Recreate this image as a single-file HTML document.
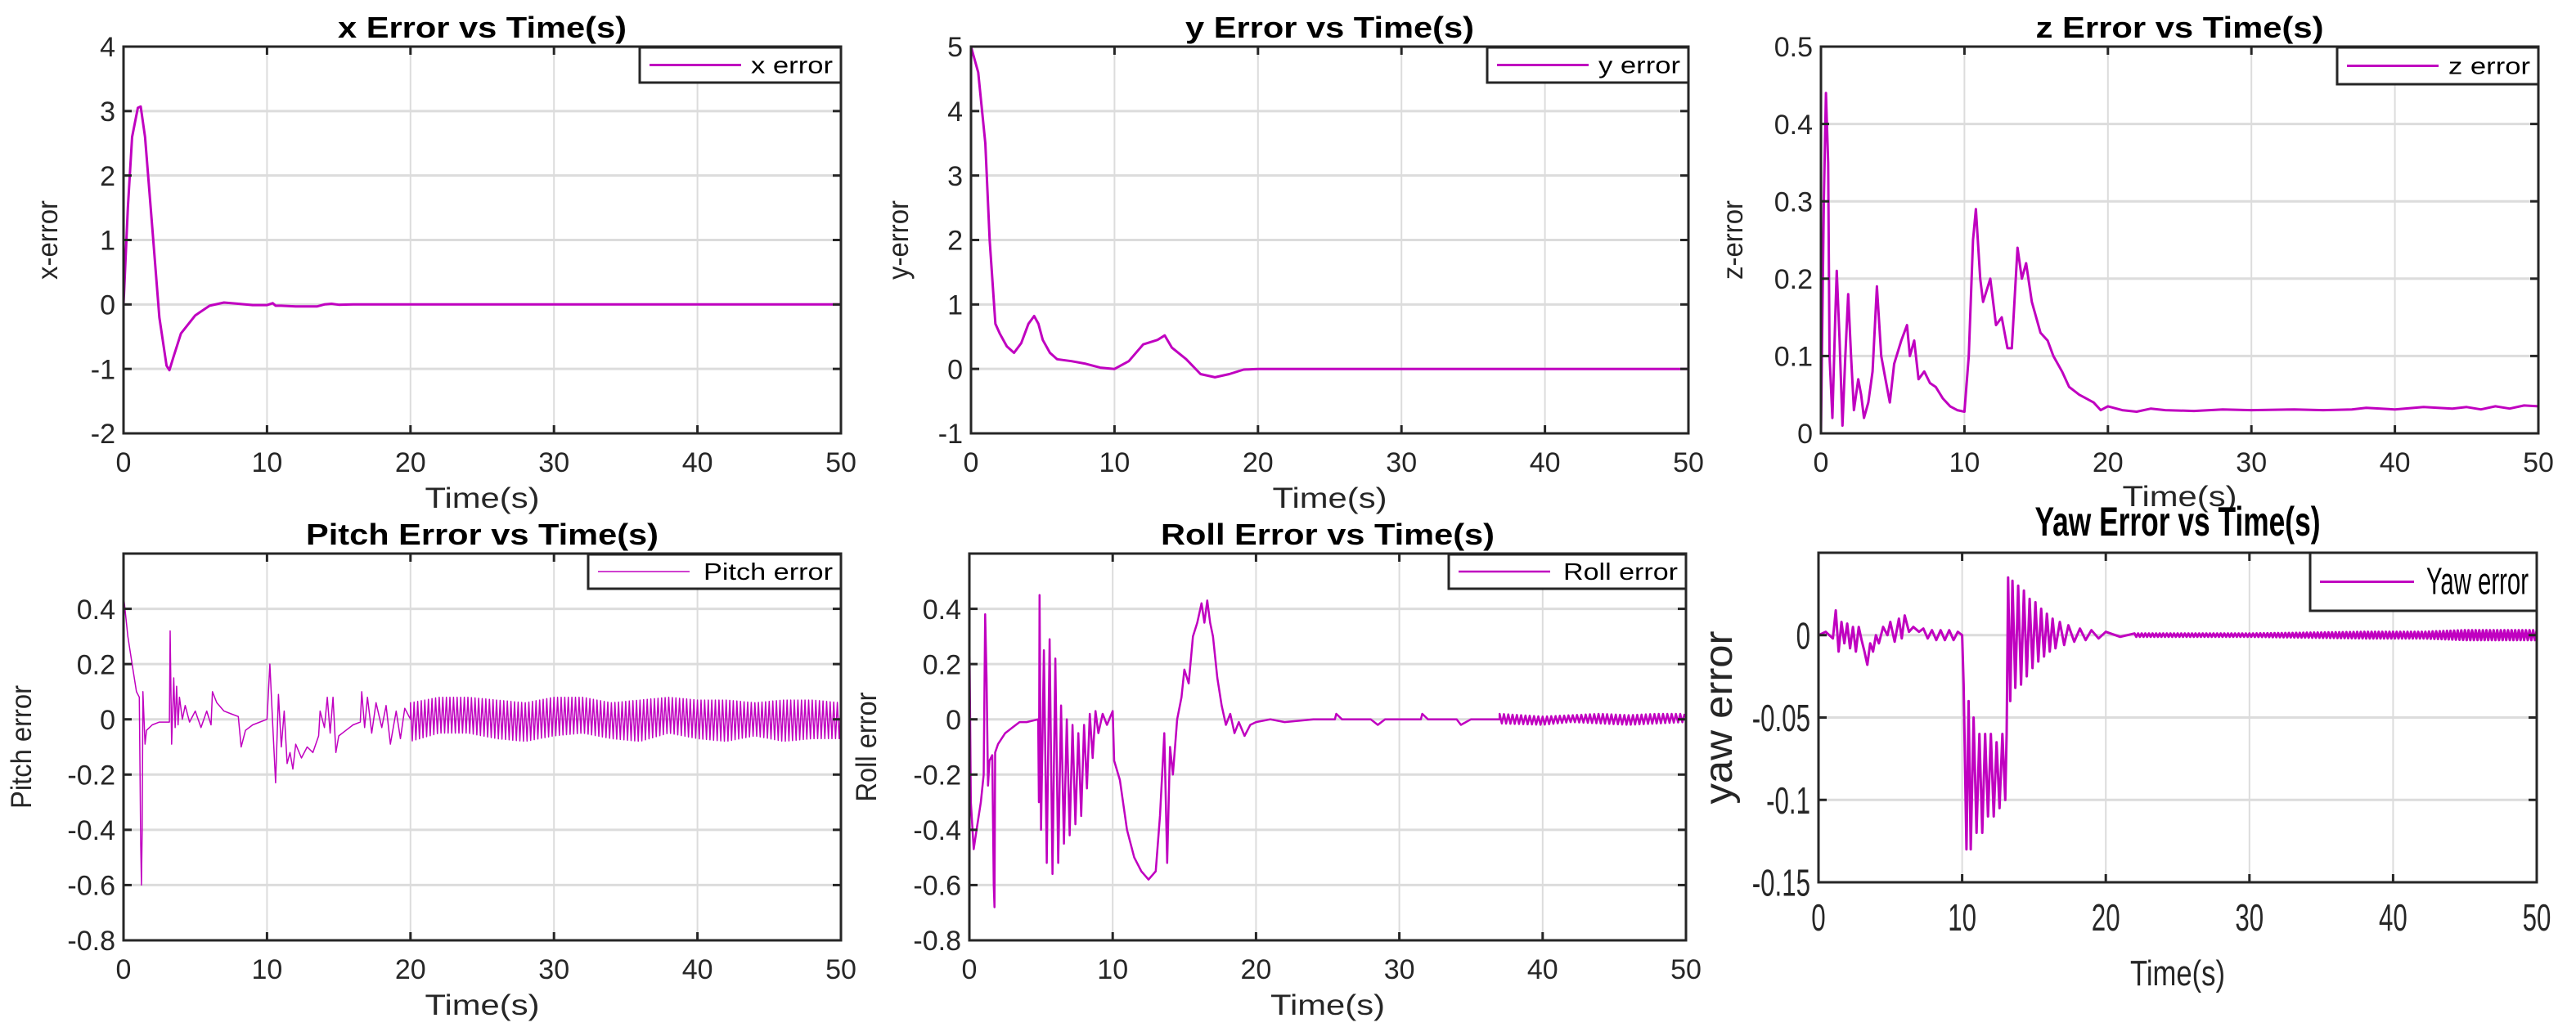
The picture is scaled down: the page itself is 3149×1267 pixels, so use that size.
<!DOCTYPE html>
<html><head><meta charset="utf-8"><style>
html,body{margin:0;padding:0;background:#fff;}
svg{display:block;}
</style></head><body>
<svg id="fig" width="3149" height="1267" viewBox="0 0 3149 1267" xmlns="http://www.w3.org/2000/svg" font-family="Liberation Sans, sans-serif"></svg>
<script>
// ---------- data ----------
const xTimes=[0,0.3,0.6,1,1.2,1.5,2,2.5,3,3.2,3.5,4,5,6,7,8,9,10,10.4,10.6,11,12,13.5,14,14.5,15,16,17,50];
const xVals=[0,1.5,2.6,3.05,3.07,2.6,1.2,-0.2,-0.95,-1.02,-0.8,-0.45,-0.17,-0.02,0.03,0.01,-0.01,-0.01,0.02,-0.02,-0.02,-0.03,-0.03,0,0.01,-0.005,0,0,0];
const yTimes=[0,0.5,1,1.3,1.7,2,2.5,3,3.5,4,4.4,4.7,5,5.5,6,7,8,9,10,11,12,13,13.5,14,15,16,17,18,19,20,50];
const yVals=[5,4.6,3.5,2,0.7,0.55,0.35,0.25,0.4,0.7,0.82,0.7,0.45,0.25,0.15,0.12,0.08,0.02,0,0.12,0.38,0.45,0.52,0.33,0.15,-0.08,-0.13,-0.08,-0.01,0,0];
const zTimes=[0,0.2,0.35,0.5,0.6,0.8,1,1.1,1.3,1.5,1.7,1.9,2.1,2.3,2.6,2.8,3,3.3,3.6,3.9,4.2,4.5,4.8,5.1,5.6,6,6.2,6.5,6.8,7.2,7.6,8,8.5,9,9.5,10,10.3,10.6,10.8,11.1,11.3,11.8,12.2,12.6,13,13.3,13.7,14,14.3,14.7,15.3,15.8,16.2,16.8,17.3,18,19,19.5,20,21,22,23,24,26,28,30,33,35,37,38,40,42,44,45,46,47,48,49,50];
const zVals=[0,0.3,0.44,0.35,0.1,0.02,0.15,0.21,0.12,0.01,0.1,0.18,0.1,0.03,0.07,0.05,0.02,0.04,0.08,0.19,0.1,0.07,0.04,0.09,0.12,0.14,0.1,0.12,0.07,0.08,0.065,0.06,0.045,0.035,0.03,0.028,0.1,0.25,0.29,0.2,0.17,0.2,0.14,0.15,0.11,0.11,0.24,0.2,0.22,0.17,0.13,0.12,0.1,0.08,0.06,0.05,0.04,0.03,0.035,0.03,0.028,0.032,0.03,0.029,0.031,0.03,0.031,0.03,0.031,0.033,0.031,0.034,0.032,0.034,0.031,0.035,0.032,0.036,0.035];
const pitchTimes=[0,0.3,0.6,0.9,1.1,1.2,1.25,1.3,1.35,1.5,1.6,2,2.5,3.2,3.25,3.35,3.5,3.6,3.7,3.8,3.9,4.1,4.3,4.6,5,5.4,5.8,6.1,6.2,6.5,7,7.5,8,8.2,8.5,9,10,10.2,10.4,10.6,10.8,11,11.2,11.4,11.6,11.8,12,12.4,12.8,13.2,13.6,13.7,14,14.2,14.4,14.6,14.8,15,15.5,16,16.5,16.6,16.8,17,17.3,17.6,18,18.3,18.6,19,19.3,19.6,20];
const pitchVals=[0.45,0.3,0.2,0.1,0.08,-0.45,-0.6,-0.4,0.1,-0.09,-0.04,-0.02,-0.01,-0.01,0.32,-0.09,0.15,-0.03,0.12,-0.02,0.08,0,0.05,-0.01,0.03,-0.03,0.03,-0.02,0.1,0.06,0.03,0.02,0.01,-0.1,-0.04,-0.02,0,0.2,-0.02,-0.23,0.09,-0.1,0.03,-0.16,-0.12,-0.18,-0.09,-0.14,-0.1,-0.12,-0.06,0.03,-0.03,0.08,-0.05,0.08,-0.12,-0.06,-0.04,-0.02,-0.01,0.1,-0.03,0.08,-0.05,0.06,-0.03,0.05,-0.09,0.03,-0.07,0.04,0];
const pitchEnvT=[20,22,24,26,28,30,32,34,36,38,40,42,44,46,48,50];
const pitchEnvHi=[0.06,0.08,0.08,0.07,0.06,0.08,0.08,0.06,0.07,0.08,0.07,0.07,0.06,0.07,0.07,0.06];
const pitchEnvLo=[-0.08,-0.05,-0.05,-0.07,-0.08,-0.06,-0.05,-0.07,-0.08,-0.05,-0.07,-0.08,-0.06,-0.08,-0.07,-0.07];
const rollTimes=[0,0.1,0.3,0.5,0.8,1.0,1.1,1.2,1.3,1.4,1.6,1.7,1.75,1.8,2,2.5,3,3.5,4,4.8,4.85,4.9,5.0,5.2,5.4,5.6,5.8,6,6.2,6.4,6.6,6.8,7,7.2,7.4,7.6,7.8,8,8.2,8.4,8.6,8.8,9,9.3,9.6,10,10.1,10.5,11,11.5,12,12.5,13,13.3,13.6,13.8,14,14.2,14.5,14.8,15,15.3,15.6,15.9,16.2,16.4,16.6,16.8,17,17.3,17.6,17.9,18.2,18.5,18.8,19.2,19.6,20,21,22,24,25.5,25.6,26,28,28.5,29,31.5,31.6,32,34,34.3,35,37];
const rollVals=[0.32,-0.3,-0.47,-0.4,-0.3,-0.2,0.38,0.15,-0.24,-0.15,-0.13,-0.6,-0.68,-0.12,-0.09,-0.05,-0.03,-0.01,-0.01,0,-0.3,0.45,-0.4,0.25,-0.52,0.29,-0.56,0.22,-0.52,0.05,-0.45,0,-0.42,-0.02,-0.38,-0.05,-0.35,-0.02,-0.25,0.02,-0.14,0.03,-0.05,0.02,-0.02,0.03,-0.15,-0.22,-0.4,-0.5,-0.55,-0.58,-0.55,-0.35,-0.05,-0.52,-0.1,-0.2,0,0.08,0.18,0.13,0.3,0.35,0.42,0.35,0.43,0.35,0.3,0.15,0.05,-0.02,0.02,-0.05,-0.01,-0.06,-0.02,-0.01,0,-0.01,0,0,0.02,0,0,-0.02,0,0,0.02,0,0,-0.02,0,0];
const rollEnvT=[37,40,42,44,46,48,50];
const rollEnvHi=[0.02,0.01,0.015,0.02,0.015,0.02,0.02];
const rollEnvLo=[-0.015,-0.02,-0.01,-0.015,-0.02,-0.015,-0.01];
const yawTimes=[0,0.5,1,1.2,1.4,1.6,1.8,2,2.2,2.4,2.6,2.8,3,3.2,3.4,3.6,3.8,4,4.2,4.5,4.8,5,5.3,5.6,5.8,6,6.3,6.6,7,7.3,7.6,7.9,8.2,8.5,8.8,9.1,9.4,9.7,10,10.1,10.3,10.45,10.6,10.8,11,11.2,11.4,11.6,11.8,12,12.2,12.4,12.6,12.8,13,13.1,13.2,13.35,13.5,13.7,13.9,14.1,14.3,14.5,14.7,14.9,15.1,15.3,15.5,15.7,15.9,16.1,16.3,16.5,16.8,17.1,17.4,17.8,18.2,18.6,19,19.5,20,21,22];
const yawVals=[0,0.002,-0.002,0.015,-0.01,0.008,-0.005,0.007,-0.008,0.005,-0.01,0.005,-0.003,-0.01,-0.018,-0.005,-0.01,0,-0.005,0.005,0,0.008,-0.004,0.01,-0.002,0.012,0.002,0.005,0.002,0.004,-0.002,0.003,-0.003,0.003,-0.003,0.003,-0.003,0.002,0,-0.03,-0.13,-0.04,-0.13,-0.05,-0.12,-0.06,-0.12,-0.06,-0.11,-0.06,-0.11,-0.065,-0.105,-0.06,-0.1,-0.06,0.035,-0.04,0.033,-0.032,0.03,-0.03,0.027,-0.025,0.022,-0.02,0.02,-0.016,0.016,-0.013,0.013,-0.01,0.01,-0.008,0.008,-0.006,0.006,-0.004,0.004,-0.003,0.003,-0.002,0.002,-0.001,0.001];
const yawEnvT=[22,30,38,42,45,50];
const yawEnvHi=[0.001,0.001,0.002,0.002,0.003,0.003];
const yawEnvLo=[-0.001,-0.001,-0.002,-0.002,-0.003,-0.003];
const xTicks=[0,10,20,30,40,50];

// ---------- rendering ----------
const NS='http://www.w3.org/2000/svg';
const svg=document.getElementById('fig');
function mk(tag,attrs,parent){const e=document.createElementNS(NS,tag);for(const k in attrs)e.setAttribute(k,attrs[k]);(parent||svg).appendChild(e);return e;}
function envAt(T,A,t){if(t<=T[0])return A[0];for(let i=1;i<T.length;i++){if(t<=T[i]){const f=(t-T[i-1])/(T[i]-T[i-1]);return A[i-1]+f*(A[i]-A[i-1]);}}return A[A.length-1];}
function zig(T,H,L,period){const pts=[];let k=0;for(let t=T[0];t<=T[T.length-1]+1e-9;t+=period/2){pts.push([t,k%2?envAt(T,L,t):envAt(T,H,t)]);k++;}return pts;}

const charts=[
 {id:'x',L:151,R:1028,T:57,B:530,ymin:-2,ymax:4,yt:[-2,-1,0,1,2,3,4],ytl:['-2','-1','0','1','2','3','4'],title:'x Error vs Time(s)',titleW:353,titleY:46,yl:'x-error',ylW:97,ylX:70,tickY:577,xlY:621,xlW:140,leg:[782,58,1028,101],legText:'x error',legW:100,lw:3,times:xTimes,vals:xVals},
 {id:'y',L:1187,R:2064,T:57,B:530,ymin:-1,ymax:5,yt:[-1,0,1,2,3,4,5],ytl:['-1','0','1','2','3','4','5'],title:'y Error vs Time(s)',titleW:353,titleY:46,yl:'y-error',ylW:97,ylX:1110,tickY:577,xlY:621,xlW:140,leg:[1818,58,2064,101],legText:'y error',legW:100,lw:3,times:yTimes,vals:yVals},
 {id:'z',L:2226,R:3103,T:57,B:530,ymin:0,ymax:0.5,yt:[0,0.1,0.2,0.3,0.4,0.5],ytl:['0','0.1','0.2','0.3','0.4','0.5'],title:'z Error vs Time(s)',titleW:352,titleY:46,yl:'z-error',ylW:97,ylX:2130,tickY:577,xlY:619,xlW:140,leg:[2857,58,3103,103],legText:'z error',legW:100,lw:3,times:zTimes,vals:zVals},
 {id:'pitch',L:151,R:1028,T:677,B:1150,ymin:-0.8,ymax:0.6,yt:[-0.8,-0.6,-0.4,-0.2,0,0.2,0.4],ytl:['-0.8','-0.6','-0.4','-0.2','0','0.2','0.4'],title:'Pitch Error vs Time(s)',titleW:431,titleY:666,yl:'Pitch error',ylW:151,ylX:38,tickY:1197,xlY:1241,xlW:140,leg:[719,678,1028,720],legText:'Pitch error',legW:158,lw:1.5,times:pitchTimes,vals:pitchVals,env:[pitchEnvT,pitchEnvHi,pitchEnvLo,0.25]},
 {id:'roll',L:1185,R:2061,T:677,B:1150,ymin:-0.8,ymax:0.6,yt:[-0.8,-0.6,-0.4,-0.2,0,0.2,0.4],ytl:['-0.8','-0.6','-0.4','-0.2','0','0.2','0.4'],title:'Roll Error vs Time(s)',titleW:408,titleY:666,yl:'Roll error',ylW:134,ylX:1071,tickY:1197,xlY:1241,xlW:140,leg:[1771,678,2061,720],legText:'Roll error',legW:140,lw:2.5,times:rollTimes,vals:rollVals,env:[rollEnvT,rollEnvHi,rollEnvLo,0.3]},
 {id:'yaw',L:2223,R:3101,T:676,B:1079,ymin:-0.15,ymax:0.05,yt:[-0.15,-0.1,-0.05,0],ytl:['-0.15','-0.1','-0.05','0'],title:'Yaw Error vs Time(s)',titleW:349,titleY:655,yl:'yaw error',ylW:212,ylX:2117,tickY:1138,xlY:1205,xlW:116,leg:[2824,676,3101,747],legText:'Yaw error',legW:125,lw:3,times:yawTimes,vals:yawVals,env:[yawEnvT,yawEnvHi,yawEnvLo,0.25],narrow:true}
];

charts.forEach(c=>{
 const g=mk('g',{});
 
 
 const sx=t=>c.L+(t-0)/(50-0)*(c.R-c.L);
 const sy=v=>c.B-(v-c.ymin)/(c.ymax-c.ymin)*(c.B-c.T);
 const nar=c.narrow;
 const tickFs=nar?46:34, titleFs=nar?50:36, labFs=nar?44:35;
 function txt(x,y,s,fs,anchor,weight,name,rot,len){
  const e=mk('text',{x:0,y:0,'font-size':fs,'text-anchor':anchor,fill:weight==='bold'?'#000':'#262626','font-weight':weight||'normal'},g);
  let tr='translate('+x+','+y+')';
  if(rot)tr+=' rotate(-90)';
  if(nar&&!rot&&!len)tr+=' scale(0.68,1)';
  e.setAttribute('transform',tr);
  if(len){e.setAttribute('textLength',len);e.setAttribute('lengthAdjust','spacingAndGlyphs');}
  e.textContent=s;
  
  
  return e;
 }
 // grid
 xTicks.forEach(t=>{
  const l=mk('line',{x1:sx(t),x2:sx(t),y1:c.T,y2:c.B,stroke:'#dcdcdc','stroke-width':2},g);
  
  
 });
 c.yt.forEach(v=>{
  const l=mk('line',{x1:c.L,x2:c.R,y1:sy(v),y2:sy(v),stroke:'#dcdcdc','stroke-width':3},g);
  
  
 });
 // series
 let pts=c.times.map((t,i)=>[t,c.vals[i]]);
 if(c.env){pts=pts.concat(zig(c.env[0],c.env[1],c.env[2],c.env[3]));}
 const d=pts.map((p,i)=>(i?'L':'M')+sx(p[0]).toFixed(1)+','+sy(p[1]).toFixed(1)).join('');
 const path=mk('path',{d:d,fill:'none',stroke:'#c000c0','stroke-width':c.lw,'stroke-linejoin':'round'},g);
 
 
 // ticks
 xTicks.forEach(t=>{
  mk('line',{x1:sx(t),x2:sx(t),y1:c.B,y2:c.B-10,stroke:'#262626','stroke-width':3},g);
  mk('line',{x1:sx(t),x2:sx(t),y1:c.T,y2:c.T+10,stroke:'#262626','stroke-width':3},g);
  txt(sx(t),c.tickY,String(t),tickFs,'middle','normal','x-tick-label');
 });
 c.yt.forEach((v,i)=>{
  mk('line',{x1:c.L,x2:c.L+10,y1:sy(v),y2:sy(v),stroke:'#262626','stroke-width':3},g);
  mk('line',{x1:c.R,x2:c.R-10,y1:sy(v),y2:sy(v),stroke:'#262626','stroke-width':3},g);
  txt(c.L-10,sy(v)+tickFs*0.36,c.ytl[i],tickFs,'end','normal','y-tick-label');
 });
 // box
 const box=mk('rect',{x:c.L,y:c.T,width:c.R-c.L,height:c.B-c.T,fill:'none',stroke:'#262626','stroke-width':3},g);
 
 
 // title and labels
 txt((c.L+c.R)/2,c.titleY,c.title,titleFs,'middle','bold','chart-title',false,c.titleW);
 txt((c.L+c.R)/2,c.xlY,'Time(s)',labFs,'middle','normal','x-axis-title',false,c.xlW);
 const ylab=txt(c.ylX,(c.T+c.B)/2,c.yl,nar?48:labFs,'middle','normal','y-axis-title',true,c.ylW);
 // legend
 const [lx1,ly1,lx2,ly2]=c.leg;
 const lg=mk('g',{},g);
 
 
 mk('rect',{x:lx1,y:ly1,width:lx2-lx1,height:ly2-ly1,fill:'#fff',stroke:'#262626','stroke-width':3},lg);
 const my=(ly1+ly2)/2;
 const sw=mk('line',{x1:lx1+12,x2:lx1+12+(nar?115:112),y1:my,y2:my,stroke:'#c000c0','stroke-width':c.lw},lg);
 
 
 const lt=mk('text',{x:0,y:0,'font-size':nar?46:29,fill:'#000',textLength:c.legW,lengthAdjust:'spacingAndGlyphs'},lg);
 lt.setAttribute('transform','translate('+(lx2-10-c.legW)+','+(my+(nar?15:10))+')');
 lt.textContent=c.legText;
 
 
});
</script>
</body></html>
